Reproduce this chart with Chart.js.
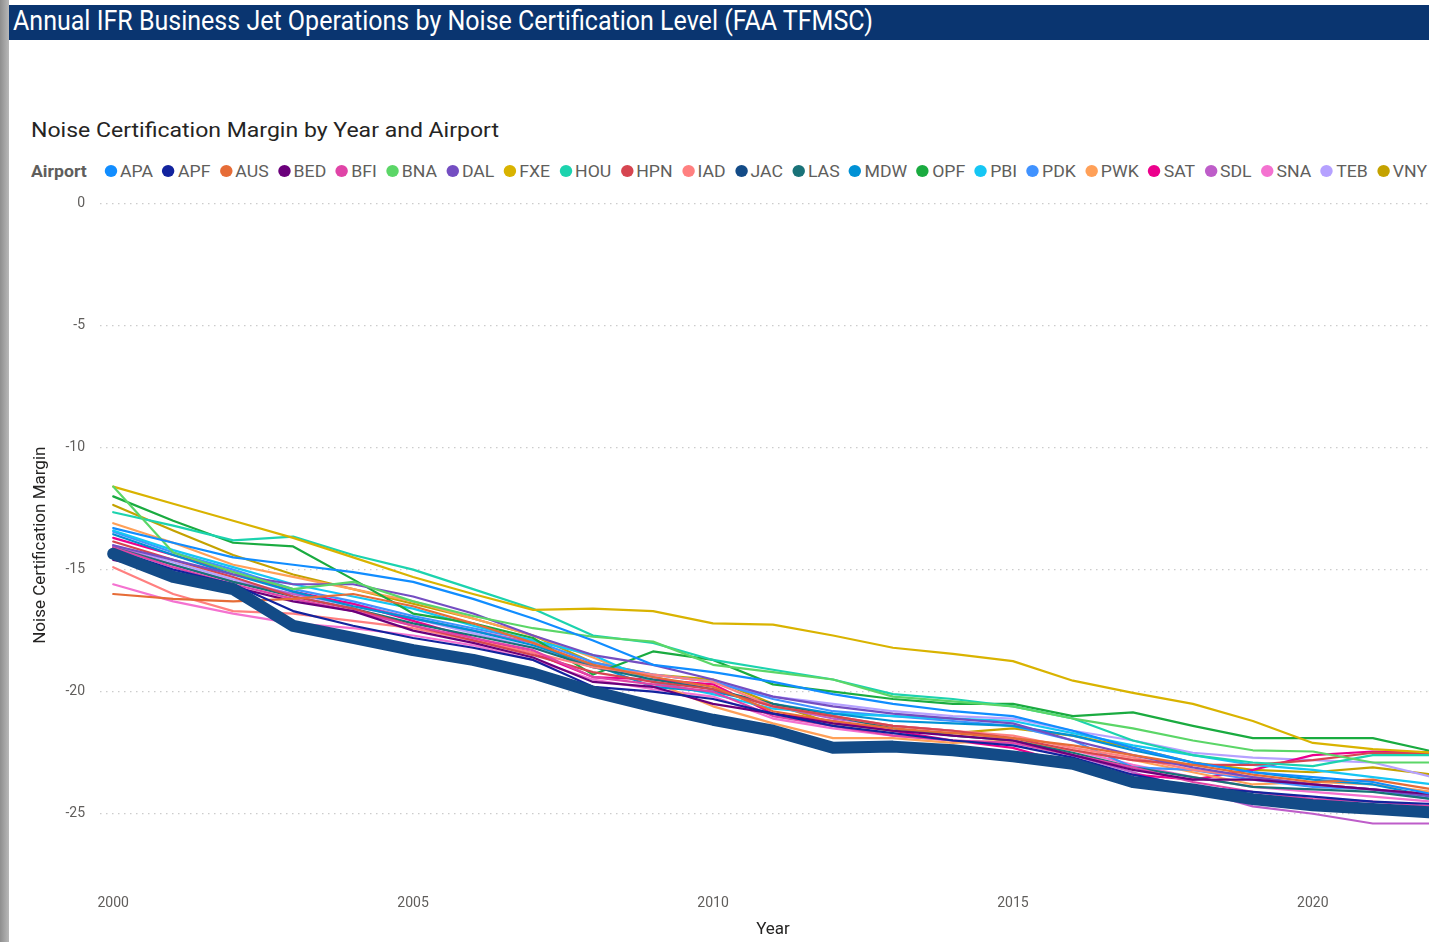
<!DOCTYPE html>
<html><head><meta charset="utf-8">
<script src="https://cdn.jsdelivr.net/npm/chart.js@4.4.1/dist/chart.umd.min.js"></script>
<style>
html,body{margin:0;padding:0;width:1429px;height:942px;overflow:hidden;background:#fff;font-family:Roboto,"Open Sans",sans-serif;}
#strip{position:absolute;left:0;top:0;width:9px;height:942px;background:linear-gradient(to right,#8e8e8e,#b8b8b8);z-index:5}
#bar{position:absolute;left:9px;top:5px;width:1420px;height:35px;background:#0a3570;}
#title{position:absolute;left:13px;top:6px;color:#fff;font-size:27px;line-height:30px;white-space:nowrap;transform-origin:0 0;}
#sub{position:absolute;left:31px;top:117px;font-size:21px;line-height:26px;color:#252423;white-space:nowrap;transform-origin:0 0;}
#legend{position:absolute;left:31px;top:160px;width:max-content;display:flex;align-items:center;white-space:nowrap;font-size:17px;line-height:22px;color:#605e5c;transform-origin:0 0;}
#legend .lt{font-weight:bold;color:#605e5c;margin-right:17px}
.li{display:flex;align-items:center;margin-right:9px}
.li:last-child{margin-right:0}
.dot{width:12px;height:12px;border-radius:50%;margin-right:3px;flex:none}
#wrap{position:absolute;left:0;top:180px;width:1450px;height:762px}
</style></head>
<body>
<div id="strip"></div>
<div id="bar"></div>
<div id="title">Annual IFR Business Jet Operations by Noise Certification Level (FAA TFMSC)</div>
<div id="sub">Noise Certification Margin by Year and Airport</div>
<div id="legend"></div>
<div id="wrap"><canvas id="c" width="1450" height="762"></canvas></div>
<script>
const years = [2000,2001,2002,2003,2004,2005,2006,2007,2008,2009,2010,2011,2012,2013,2014,2015,2016,2017,2018,2019,2020,2021,2022];
const airports = ["APA","APF","AUS","BED","BFI","BNA","DAL","FXE","HOU","HPN","IAD","JAC","LAS","MDW","OPF","PBI","PDK","PWK","SAT","SDL","SNA","TEB","VNY"];
const xTickValues = [2000,2005,2010,2015,2020];
const yTickValues = [0,-5,-10,-15,-20,-25];

const APA = [-13.3,-13.9,-14.5,-14.8,-15.1,-15.5,-16.2,-17.0,-17.9,-18.9,-19.2,-19.6,-20.1,-20.5,-20.8,-21.0,-21.6,-22.3,-22.9,-23.3,-23.5,-23.7,-24.2];
const APF = [-14.2,-15.0,-15.6,-16.7,-17.3,-17.8,-18.2,-18.7,-19.8,-20.0,-20.3,-20.9,-21.4,-21.7,-22.0,-22.2,-22.7,-23.4,-23.9,-24.1,-24.3,-24.5,-24.6];
const AUS = [-16.0,-16.2,-16.3,-16.2,-16.0,-16.5,-17.2,-18.0,-18.9,-19.4,-19.8,-20.8,-21.2,-21.5,-21.7,-21.9,-22.2,-22.6,-23.0,-23.4,-23.7,-23.6,-24.0];
const BED = [-14.6,-15.1,-15.7,-16.3,-16.7,-17.5,-18.0,-18.6,-19.6,-19.8,-20.5,-20.9,-21.3,-21.6,-21.8,-22.0,-22.6,-23.2,-23.6,-23.6,-23.8,-24.0,-24.2];
const BFI = [-14.1,-14.9,-15.6,-16.2,-16.7,-17.3,-17.8,-18.3,-19.4,-19.7,-20.0,-21.0,-21.4,-21.8,-22.0,-22.1,-22.6,-23.1,-23.7,-24.1,-24.4,-24.5,-24.7];
const BNA = [-11.6,-14.3,-15.1,-15.8,-15.5,-16.3,-16.9,-17.4,-17.75,-17.95,-18.9,-19.2,-19.5,-20.2,-20.4,-20.6,-21.1,-21.5,-22.0,-22.4,-22.45,-22.9,-22.9];
const DAL = [-14.0,-14.6,-15.2,-15.6,-15.6,-16.1,-16.8,-17.7,-18.5,-18.9,-19.5,-20.2,-20.6,-20.9,-21.1,-21.3,-22.0,-22.6,-23.1,-23.5,-23.8,-24.0,-24.3];
const FXE = [-11.6,-12.3,-13.0,-13.7,-14.5,-15.3,-16.0,-16.65,-16.6,-16.7,-17.2,-17.25,-17.7,-18.2,-18.45,-18.75,-19.55,-20.05,-20.5,-21.2,-22.1,-22.35,-22.5];
const HOU = [-12.65,-13.2,-13.8,-13.65,-14.4,-15.0,-15.8,-16.6,-17.7,-18.0,-18.7,-19.1,-19.5,-20.1,-20.3,-20.6,-21.1,-22.0,-22.6,-22.9,-23.05,-22.6,-22.6];
const HPN = [-13.85,-14.6,-15.3,-16.1,-16.6,-17.3,-17.9,-18.5,-19.2,-19.6,-19.9,-20.6,-21.0,-21.4,-21.6,-21.9,-22.4,-22.8,-23.0,-23.0,-22.8,-22.5,-22.55];
const IAD = [-14.9,-16.0,-16.7,-16.8,-17.1,-17.4,-17.9,-18.4,-19.0,-19.3,-19.6,-20.6,-21.0,-21.4,-21.6,-21.8,-22.3,-22.7,-23.2,-23.5,-23.8,-24.0,-24.2];
const JAC = [-14.35,-15.3,-15.8,-17.3,-17.8,-18.3,-18.7,-19.25,-20.0,-20.6,-21.15,-21.6,-22.3,-22.25,-22.4,-22.65,-22.95,-23.7,-24.0,-24.4,-24.65,-24.8,-24.95];
const LAS = [-14.1,-14.8,-15.5,-16.1,-16.6,-17.2,-17.7,-18.2,-19.0,-19.5,-19.9,-20.5,-21.0,-21.5,-21.8,-22.0,-22.5,-23.1,-23.5,-23.9,-24.0,-24.1,-24.4];
const MDW = [-13.55,-14.4,-15.2,-15.9,-16.5,-17.0,-17.5,-18.1,-18.9,-19.8,-20.0,-20.5,-20.9,-21.2,-21.3,-21.4,-21.8,-22.4,-22.9,-23.3,-23.6,-23.8,-24.3];
const OPF = [-12.0,-13.0,-13.9,-14.05,-15.4,-16.8,-17.2,-17.8,-19.3,-18.35,-18.7,-19.7,-20.0,-20.3,-20.5,-20.5,-21.0,-20.85,-21.4,-21.9,-21.9,-21.9,-22.45];
const PBI = [-13.4,-14.2,-14.9,-15.6,-16.1,-16.6,-17.3,-17.9,-18.5,-19.6,-20.1,-20.7,-20.9,-21.0,-21.1,-21.2,-21.7,-22.2,-22.6,-23.0,-23.2,-23.5,-23.8];
const PDK = [-13.45,-14.3,-15.0,-15.8,-16.3,-16.9,-17.4,-17.9,-18.8,-19.3,-19.6,-20.3,-20.8,-21.0,-21.2,-21.4,-22.0,-23.1,-23.2,-23.6,-23.9,-24.0,-24.4];
const PWK = [-13.1,-13.9,-14.8,-15.3,-15.8,-16.3,-17.0,-17.7,-18.6,-19.6,-20.6,-21.3,-21.9,-21.9,-22.1,-22.0,-22.4,-22.8,-23.3,-23.8,-23.7,-23.8,-24.1];
const SAT = [-13.7,-14.4,-15.1,-15.9,-16.4,-17.1,-17.8,-18.4,-19.4,-19.5,-19.7,-20.9,-21.2,-21.6,-22.0,-22.3,-23.0,-23.4,-23.6,-23.2,-22.6,-22.45,-22.5];
const SDL = [-14.05,-14.8,-15.5,-16.0,-16.4,-17.0,-17.5,-18.0,-19.0,-19.4,-19.9,-20.6,-21.1,-21.4,-21.6,-22.0,-22.6,-23.3,-24.0,-24.7,-25.0,-25.4,-25.4];
const SNA = [-15.6,-16.3,-16.8,-17.2,-17.4,-17.7,-18.1,-18.7,-19.5,-19.9,-20.2,-21.1,-21.5,-21.8,-22.0,-22.1,-22.4,-23.0,-23.5,-23.9,-24.1,-24.3,-24.5];
const TEB = [-14.0,-14.7,-15.4,-16.0,-16.5,-17.0,-17.6,-18.2,-18.9,-19.3,-19.6,-20.2,-20.5,-20.8,-21.0,-21.1,-21.6,-22.0,-22.5,-22.7,-22.8,-22.9,-23.5];
const VNY = [-12.35,-13.4,-14.4,-15.2,-15.8,-16.4,-17.0,-17.7,-18.8,-19.3,-19.5,-20.5,-21.3,-21.6,-21.7,-21.5,-21.8,-22.3,-22.9,-23.2,-23.3,-23.1,-23.4];

const seriesList = [APA,APF,AUS,BED,BFI,BNA,DAL,FXE,HOU,HPN,IAD,JAC,LAS,MDW,OPF,PBI,PDK,PWK,SAT,SDL,SNA,TEB,VNY];
const colors = ["#118DFF","#12239E","#E66C37","#6B007B","#E044A7","#5BD667","#744EC2","#D9B300","#1CD3AE","#D64550","#FF8080","#134B87","#197278","#0091D5","#1AAB40","#15C6F4","#4092FF","#FFA058","#EC008C","#BE5DC9","#F472D0","#B5A1FF","#C4A200"];

// legend
const lg = document.getElementById('legend');
const lt = document.createElement('span'); lt.className='lt'; lt.textContent='Airport'; lg.appendChild(lt);
airports.forEach((a,i)=>{
  const it=document.createElement('span'); it.className='li';
  const d=document.createElement('span'); d.className='dot'; d.style.background=colors[i];
  const t=document.createElement('span'); t.textContent=a;
  it.appendChild(d); it.appendChild(t); lg.appendChild(it);
});
function fit(id,w){const e=document.getElementById(id);const s=w/e.getBoundingClientRect().width;e.style.transform='scaleX('+s+')';}
fit('title',860); fit('sub',468); fit('legend',1396);

const datasets = airports.map((a,i)=>({
  label:a,
  data: seriesList[i].map((v,j)=>({x:years[j],y:v})),
  borderColor: colors[i],
  backgroundColor: colors[i],
  borderWidth: a==='JAC'?12:2.2,
  pointRadius:0,
  tension:0,
  borderJoinStyle:'round',
  borderCapStyle:'round',
  order: a==='JAC'?-1:0
}));

new Chart(document.getElementById('c'),{
  type:'line',
  data:{datasets},
  options:{
    responsive:false,animation:false,
    layout:{padding:{left:0,right:4,top:2,bottom:0}},
    plugins:{legend:{display:false},tooltip:{enabled:false}},
    scales:{
      x:{type:'linear',min:1999.78,max:2022.22,
        afterBuildTicks:s=>{s.ticks=xTickValues.map(v=>({value:v}));},
        afterFit:s=>{s.height=55;},
        grid:{display:false,drawTicks:false},border:{display:false},
        ticks:{autoSkip:false,maxRotation:0,padding:8,color:'#605e5c',font:{family:'Roboto',size:14},callback:v=>String(v)},
        title:{display:true,text:'Year',color:'#252423',font:{family:'Roboto',size:17},padding:{top:0,bottom:2}}
      },
      y:{min:-28,max:0,
        afterBuildTicks:s=>{s.ticks=yTickValues.map(v=>({value:v}));},
        afterFit:s=>{s.width=100;},
        grid:{color:'#cccccc',lineWidth:1.2,drawTicks:false},
        border:{display:false,dash:[1.5,4.5]},
        ticks:{padding:15,color:'#605e5c',font:{family:'Roboto',size:14},callback:v=>String(v)},
        title:{display:true,text:'Noise Certification Margin',color:'#252423',font:{family:'Roboto',size:17},padding:{top:31,bottom:0}}
      }
    }
  }
});
</script>
</body></html>
